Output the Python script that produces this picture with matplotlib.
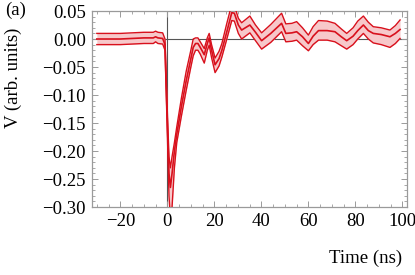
import numpy as np
import matplotlib.pyplot as plt
from matplotlib.ticker import MultipleLocator

plt.rcParams['font.family'] = ['Liberation Serif', 'DejaVu Serif']
plt.rcParams['mathtext.fontset'] = 'stix'

# --- data (time in ns, signal in arb. units) ---
time_ns = [-30, -20, -10, -6, -5, -4, -2, -1, 0, 0.7, 1.3, 2, 3, 4, 6, 8, 10, 11,
           12, 13, 14, 15.7, 17, 17.8, 18.8, 20.3, 22, 23.2, 25.3, 27.4, 28.5,
           30.2, 31.6, 35.1, 37.5, 40.1, 44, 48.6, 50.4, 53, 55, 57.5, 60, 62,
           64.3, 68, 71.3, 74, 76.3, 79, 81, 83.4, 85.5, 87.6, 91, 94.7, 97, 99]
mean_v = [0.0, 0.0, 0.002, 0.002, 0.004, 0.002, 0.001, -0.01, -0.15, -0.24, -0.265,
          -0.24, -0.20, -0.17, -0.12, -0.075, -0.035, -0.015, -0.008, -0.008,
          -0.015, -0.028, -0.008, 0.002, -0.02, -0.046, -0.035, -0.02, 0.013,
          0.047, 0.046, 0.025, 0.016, 0.025, 0.012, -0.003, 0.01, 0.028, 0.010,
          0.011, 0.013, 0.004, -0.008, 0.005, 0.015, 0.015, 0.013, 0.004, -0.003,
          0.005, 0.015, 0.025, 0.015, 0.010, 0.008, 0.004, 0.01, 0.017]
upper_v = [0.01, 0.01, 0.012, 0.012, 0.014, 0.012, 0.011, 0.0, -0.13, -0.21, -0.23,
           -0.21, -0.185, -0.157, -0.105, -0.058, -0.02, 0.0, 0.002, 0.002,
           -0.005, -0.017, 0.002, 0.01, -0.01, -0.034, -0.022, -0.008, 0.028,
           0.062, 0.06, 0.037, 0.029, 0.041, 0.025, 0.011, 0.026, 0.046, 0.027,
           0.028, 0.031, 0.02, 0.007, 0.022, 0.033, 0.032, 0.028, 0.018, 0.010,
           0.02, 0.032, 0.041, 0.03, 0.022, 0.02, 0.016, 0.024, 0.034]
lower_v = [-0.01, -0.01, -0.008, -0.008, -0.005, -0.008, -0.009, -0.02, -0.17, -0.28,
           -0.32, -0.30, -0.23, -0.185, -0.137, -0.092, -0.05, -0.03, -0.02, -0.02,
           -0.027, -0.043, -0.02, -0.011, -0.033, -0.06, -0.048, -0.032, 0.0,
           0.033, 0.032, 0.01, 0.0, 0.011, -0.003, -0.018, -0.006, 0.013, -0.005,
           -0.004, -0.002, -0.012, -0.021, -0.01, -0.002, -0.002, -0.005, -0.012,
           -0.018, -0.01, 0.0, 0.010, 0.0, -0.007, -0.01, -0.015, -0.008, 0.001]

line_red = '#d8101c'
band_pink = '#f7c8ca'
frame_gray = '#9a9a9a'
fs = 13.5

fig = plt.figure(figsize=(4.15, 2.75), dpi=100)
ax = fig.add_axes([0.222, 0.247, 0.759, 0.713])

ax.axhline(0, color='#555555', lw=0.8, zorder=1)
ax.axvline(0, color='#555555', lw=0.8, zorder=1)

ax.fill_between(time_ns, lower_v, upper_v, color=band_pink, lw=0, zorder=2)
ax.plot(time_ns, upper_v, color=line_red, lw=1.0, zorder=3)
ax.plot(time_ns, lower_v, color=line_red, lw=1.0, zorder=3)
ax.plot(time_ns, mean_v, color=line_red, lw=1.2, zorder=4)

ax.set_xlim(-32, 102)
ax.set_ylim(-0.30, 0.05)

ax.xaxis.set_major_locator(MultipleLocator(20))
ax.xaxis.set_minor_locator(MultipleLocator(5))
ax.yaxis.set_major_locator(MultipleLocator(0.05))
ax.yaxis.set_minor_locator(MultipleLocator(0.01))
ax.yaxis.set_major_formatter(plt.FuncFormatter(lambda v, p: f"{v:.2f}".replace('-', '\u2212')))
ax.xaxis.set_major_formatter(plt.FuncFormatter(lambda v, p: f"{v:.0f}".replace('-', '\u2212')))

for s in ax.spines.values():
    s.set_color(frame_gray)
    s.set_linewidth(0.9)
ax.tick_params(which='both', direction='in', top=True, right=True, color=frame_gray,
               labelsize=fs, pad=4.5)
ax.tick_params(which='major', length=4, width=0.7)
ax.tick_params(which='minor', length=2, width=0.6)

fig.text(0.032, 0.716, 'V (arb. units)', rotation=90, ha='center', va='center', fontsize=fs)
fig.text(0.97, 0.03, 'Time (ns)', ha='right', va='bottom', fontsize=fs)
fig.text(0.012, 0.995, '(a)', ha='left', va='top', fontsize=fs)

fig.savefig('out.png', dpi=100)
